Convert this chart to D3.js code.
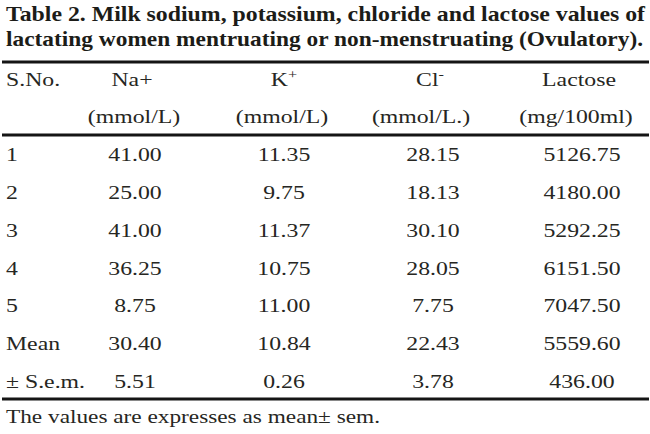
<!DOCTYPE html>
<html>
<head>
<meta charset="utf-8">
<script src="https://cdn.jsdelivr.net/npm/d3@7"></script>
<style>
  body { margin: 0; background: #fff; }
  svg text { font-family: "Liberation Serif", "Times New Roman", serif; fill: #262622; }
</style>
</head>
<body>
<div id="chart"></div>
<script>
const titleLines = [
  "Table 2. Milk sodium, potassium, chloride and lactose values of",
  "lactating women mentruating or non-menstruating (Ovulatory)."
];
const columns = ["Na", "K", "Cl", "Lactose"];
const headerTop = [["Na+", ""], ["K", "+"], ["Cl", "-"], ["Lactose", ""]];
const headerUnits = ["(mmol/L)", "(mmol/L)", "(mmol/L.)", "(mg/100ml)"];
const rowLabels = ["1", "2", "3", "4", "5", "Mean", "\u00b1 S.e.m."];
const sodium = ["41.00", "25.00", "41.00", "36.25", "8.75", "30.40", "5.51"];
const potassium = ["11.35", "9.75", "11.37", "10.75", "11.00", "10.84", "0.26"];
const chloride = ["28.15", "18.13", "30.10", "28.05", "7.75", "22.43", "3.78"];
const lactose = ["5126.75", "4180.00", "5292.25", "6151.50", "7047.50", "5559.60", "436.00"];
const footnote = "The values are expresses as mean\u00b1 sem.";

const width = 650, height = 434;
const sx = 1.25; // the scan is stretched sideways

const svg = d3.select("#chart").append("svg")
  .attr("width", width)
  .attr("height", height);

const x = d3.scalePoint().domain(columns).range([135, 582]);
const y = d3.scalePoint().domain(rowLabels).range([161, 388]);

// title
svg.selectAll("text.title")
  .data(titleLines)
  .join("text")
  .attr("class", "title")
  .attr("x", 6)
  .attr("y", (d, i) => 21 + i * 25)
  .attr("textLength", (d, i) => i === 0 ? 639 : 637)
  .attr("lengthAdjust", "spacingAndGlyphs")
  .style("font-size", "22px")
  .style("font-weight", "bold")
  .style("fill", "#1c1c18")
  .text(d => d);

// rules
const rules = [62, 135, 399];
svg.selectAll("line.rule")
  .data(rules)
  .join("line")
  .attr("class", "rule")
  .attr("x1", 2)
  .attr("x2", 649)
  .attr("y1", d => d)
  .attr("y2", d => d)
  .attr("stroke", "#151515")
  .attr("stroke-width", 3);

function put(sel, px, py) {
  return sel.attr("transform", `translate(${px},${py}) scale(${sx},1)`);
}

const fs = "19px";

// header
put(svg.append("text"), 6, 86).style("font-size", fs).text("S.No.");

const headTop = svg.selectAll("text.htop")
  .data(columns)
  .join("text")
  .attr("class", "htop")
  .attr("text-anchor", "middle")
  .style("font-size", fs)
  .attr("transform", (d, i) => `translate(${x(d) + (i === 1 ? 0 : -3)},86) scale(${sx},1)`);
headTop.append("tspan").text((d, i) => headerTop[i][0]);
headTop.append("tspan")
  .attr("dy", -7)
  .style("font-size", "13px")
  .text((d, i) => headerTop[i][1]);

svg.selectAll("text.hunit")
  .data(columns)
  .join("text")
  .attr("class", "hunit")
  .attr("text-anchor", "middle")
  .style("font-size", fs)
  .attr("transform", (d, i) => `translate(${x(d) - (i === 0 ? 1 : i === 1 ? 2 : i === 2 ? 12 : 6)},123) scale(${sx},1)`)
  .text((d, i) => headerUnits[i]);

// row labels
svg.selectAll("text.rlabel")
  .data(rowLabels)
  .join("text")
  .attr("class", "rlabel")
  .style("font-size", fs)
  .attr("transform", d => `translate(6,${y(d)}) scale(${sx},1)`)
  .text(d => d);

// cells
const series = { Na: sodium, K: potassium, Cl: chloride, Lactose: lactose };
columns.forEach(c => {
  svg.selectAll("text.cell-" + c)
    .data(series[c])
    .join("text")
    .attr("class", "cell-" + c)
    .attr("text-anchor", "middle")
    .style("font-size", fs)
    .attr("transform", (d, i) => `translate(${x(c)},${y(rowLabels[i])}) scale(${sx},1)`)
    .text(d => d);
});

// footnote
svg.append("text")
  .attr("x", 6)
  .attr("y", 423)
  .attr("textLength", 374)
  .attr("lengthAdjust", "spacingAndGlyphs")
  .style("font-size", fs)
  .text(footnote);
</script>
</body>
</html>
